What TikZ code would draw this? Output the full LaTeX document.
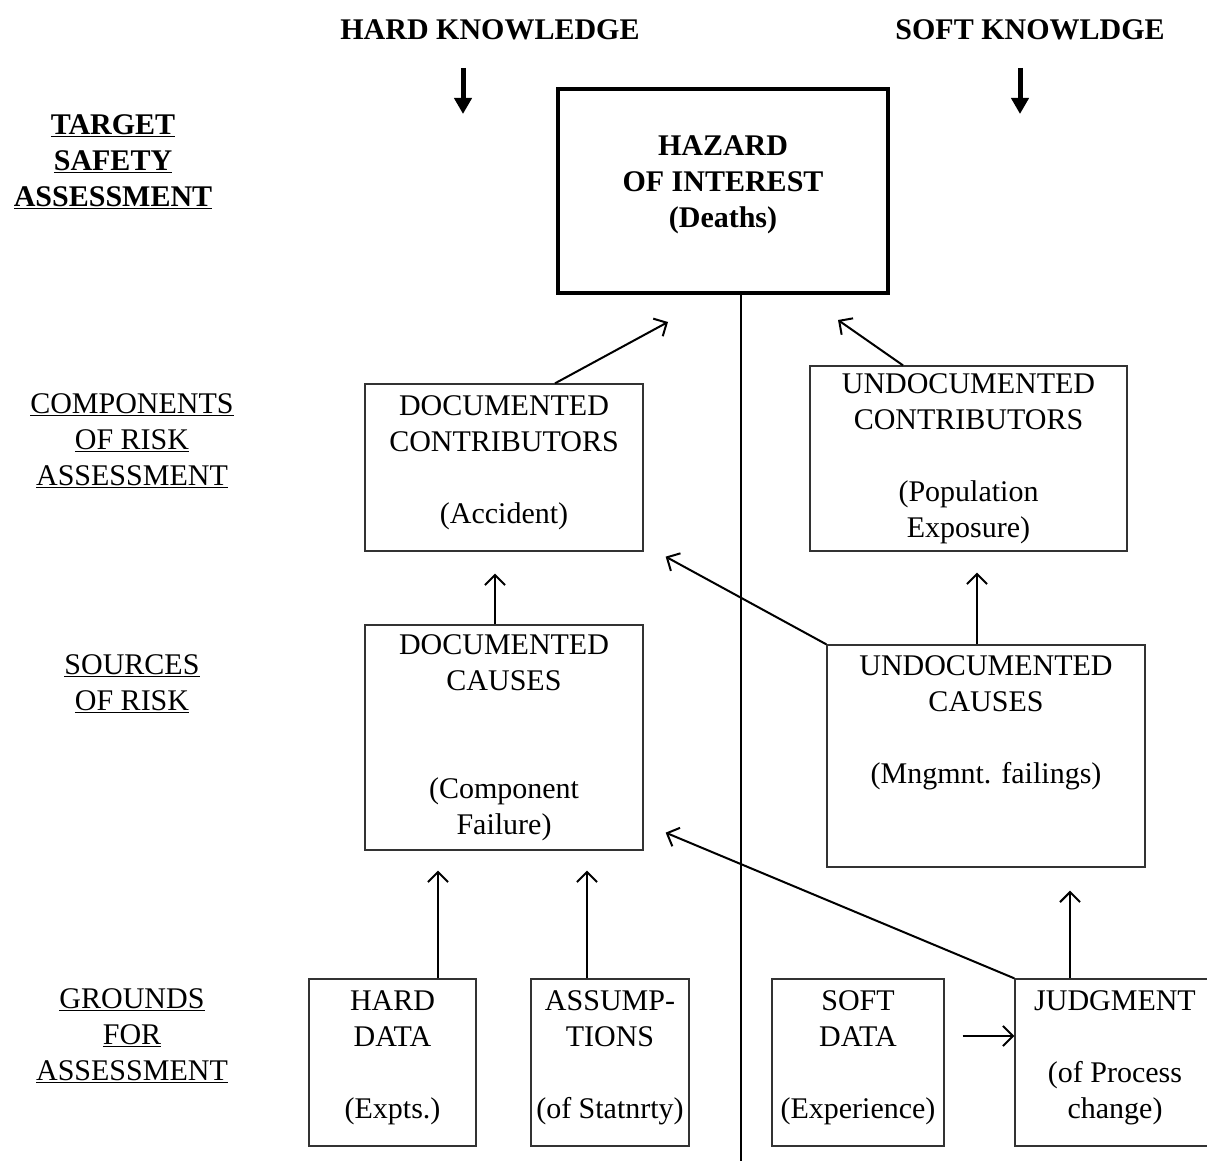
\documentclass[tikz,border=0pt]{standalone}
\usepackage{fontspec}
\setmainfont{Liberation Serif}
\usetikzlibrary{positioning, calc, arrows.meta}
\newcommand{\diagfont}{\fontsize{30}{36}\selectfont}
\newcommand{\padbottom}[1]{\\[#1]\mbox{}}
\tikzset{lane/.style={align=center, font=\diagfont},
         heading/.style={font=\diagfont\bfseries},
         box/.style={rectangle, draw=black!80, line width=1.3pt, align=center, inner sep=0pt, font=\diagfont},
         hazardbox/.style={box, draw=black, line width=4pt, font=\diagfont\bfseries},
         link/.style={-{Straight Barb[length=10pt,width=20pt]}, line width=2pt},
         knowarrow/.style={-{Triangle[length=16pt,width=17pt]}, line width=5pt},
         divider/.style={line width=2.5pt}}
\begin{document}
\begin{tikzpicture}[x=1pt, y=-1pt]
        \useasboundingbox (0,0) rectangle (1207,1161);
        % knowledge headings
        \node (hardk)[heading] at (490,30) {HARD KNOWLEDGE};
        \node (softk)[heading] at (1030,30) {SOFT KNOWLDGE};
        \draw [knowarrow] ($(hardk.center)+(-27,38)$) -- ++(0,46);
        \draw [knowarrow] ($(softk.center)+(-10,38)$) -- ++(0,46);
        % levels on the left
        \node (target)[lane, font=\diagfont\bfseries] at (113,162) {\underline{TARGET}\\\underline{SAFETY}\\\underline{ASSESSMENT}};
        \node (components)[lane] at (132,441) {\underline{COMPONENTS}\\\underline{OF RISK}\\\underline{ASSESSMENT}};
        \node (sources)[lane] at (132,684) {\underline{SOURCES}\\\underline{OF RISK}};
        \node (grounds)[lane] at (132,1036) {\underline{GROUNDS}\\\underline{FOR}\\\underline{ASSESSMENT}};
        % boxes
        \node (hazard)[hazardbox, minimum width=330pt, minimum height=204pt] at (723,191) {HAZARD\\OF INTEREST\\(Deaths)\padbottom{-17pt}};
        \node (doccon)[box, minimum width=278pt, minimum height=167pt] at (504,467.5) {DOCUMENTED\\CONTRIBUTORS\\[36pt](Accident)\padbottom{-20pt}};
        \node (undoccon)[box, minimum width=317pt, minimum height=185pt] at (968.5,458.5) {UNDOCUMENTED\\CONTRIBUTORS\\[36pt](Population\\Exposure)};
        \node (doccause)[box, minimum width=278pt, minimum height=225pt] at (504,737.5) {DOCUMENTED\\CAUSES\\[72pt](Component\\Failure)};
        \node (undoccause)[box, minimum width=318pt, minimum height=222pt] at (986,756) {UNDOCUMENTED\\CAUSES\\[36pt](Mngmnt. failings)\padbottom{36pt}};
        \node (harddata)[box, minimum width=167pt, minimum height=167pt] at (392.5,1062.5) {HARD\\DATA\\[36pt](Expts.)\padbottom{-20pt}};
        \node (assump)[box, minimum width=158pt, minimum height=167pt] at (610,1062.5) {ASSUMP-\\TIONS\\[36pt](of Statnrty)\padbottom{-20pt}};
        \node (softdata)[box, minimum width=172pt, minimum height=167pt] at (858,1062.5) {SOFT\\DATA\\[36pt](Experience)\padbottom{-20pt}};
        \node (judgment)[box, minimum width=200pt, minimum height=167pt] at (1115,1062.5) {JUDGMENT\\[36pt](of Process\\change)\padbottom{-20pt}};
        % hard / soft divide
        \coordinate (divend) at (741,1161);
        \draw [divider] (hazard.south -| divend) -- (divend);
        % links
        \draw [link] ($(doccon.north)+(51,0)$) -- ($(hazard.south)+(-55,27)$);
        \draw [link] ($(undoccon.north)+(-65.5,0)$) -- ($(hazard.south east)+(-52,25)$);
        \draw [link] ($(doccause.north)+(-9,0)$) -- ($(doccon.south)+(-9,22)$);
        \draw [link] (undoccause.north west) -- ($(doccon.south east)+(22,5)$);
        \draw [link] ($(undoccause.north)+(-9,0)$) -- ($(undoccon.south)+(8.5,21)$);
        \draw [link] ($(harddata.north)+(45.5,0)$) -- ($(doccause.south)+(-66,20)$);
        \draw [link] ($(assump.north)+(-23,0)$) -- ($(doccause.south)+(83,20)$);
        \draw [link] (judgment.north west) -- ($(doccause.south east)+(22,-18)$);
        \draw [link] ($(judgment.north)+(-45,0)$) -- ($(undoccause.south)+(84,23)$);
        \draw [link, shorten <=18pt] ($(softdata.east)+(0,-26.5)$) -- ($(judgment.west)+(0,-26.5)$);
    \end{tikzpicture}
\end{document}
